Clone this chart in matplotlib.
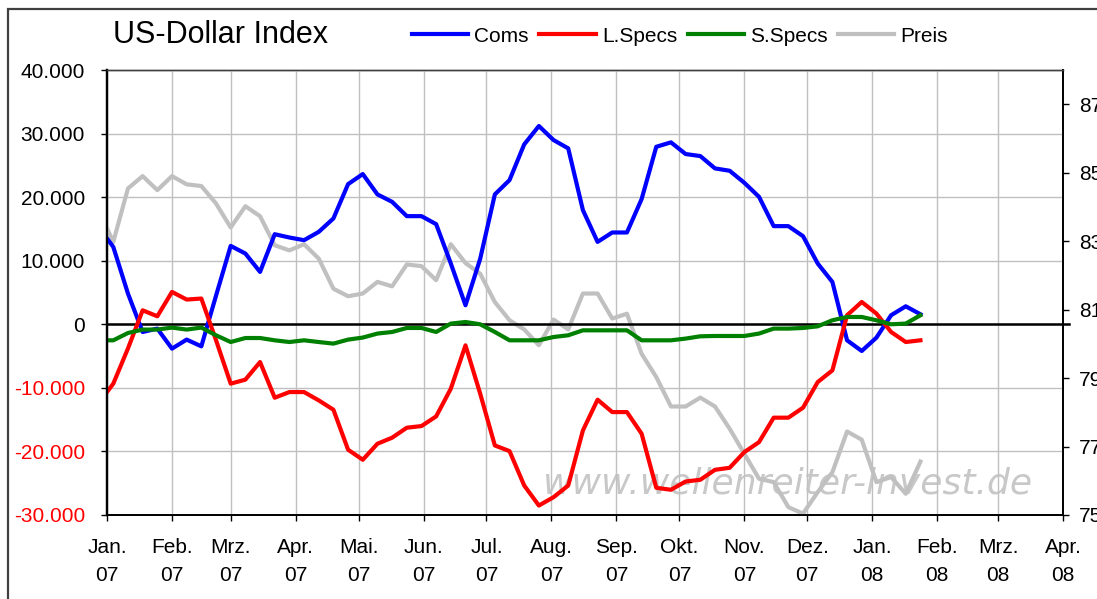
import numpy as np
import pandas as pd
import matplotlib
matplotlib.use("Agg")
import matplotlib.pyplot as plt
import matplotlib.patches as patches
from matplotlib.ticker import FuncFormatter

plt.rcParams['font.family'] = ['Liberation Sans', 'DejaVu Sans']

# ---------------------------data---------------------
# first value sits on the axis start, the rest are weekly reports
dates = pd.DatetimeIndex(['2007-01-01']).append(
    pd.date_range('2007-01-04', periods=56, freq='7D'))

coms = [13500, 12170, 4830, -1210, -680, -3830, -2410, -3470, 4500, 12330,
        11130, 8240, 14170, 13650, 13230, 14540, 16650, 22050, 23630, 20430,
        19260, 17010, 17010, 15750, 9560, 2990, 10300, 20430, 22680, 28300,
        31190, 28980, 27670, 17960, 12960, 14440, 14440, 19690, 27920, 28620,
        26780, 26460, 24520, 24150, 22260, 20050, 15440, 15440, 13860, 9560,
        6660, -2520, -4200, -2100, 1420, 2830, 1575]

l_specs = [-10660, -9340, -3800, 2200, 1260, 5090, 3890, 4050, -2500, -9340,
           -8710, -5940, -11550, -10660, -10660, -11970, -13440, -19730, -21310, -18790,
           -17840, -16270, -16010, -14490, -10130, -3310, -10910, -19060, -19950, -25360,
           -28510, -27200, -25360, -16700, -11860, -13810, -13810, -17210, -25720, -26030,
           -24730, -24460, -22890, -22570, -20110, -18540, -14690, -14690, -13120, -9090,
           -7250, 1420, 3510, 1690, -1210, -2790, -2520]

s_specs = [-2520, -2520, -1370, -830, -830, -520, -830, -520, -1730, -2790,
           -2160, -2160, -2520, -2790, -2520, -2790, -3040, -2410, -2090, -1460,
           -1210, -580, -580, -1210, 110, 360, 0, -1210, -2520, -2520,
           -2520, -2000, -1730, -950, -950, -950, -950, -2520, -2520, -2520,
           -2250, -1890, -1840, -1840, -1840, -1460, -680, -680, -580, -320,
           630, 1150, 1150, 630, 0, 110, 1420]

preis = [83.37, 82.98, 84.54, 84.90, 84.49, 84.90, 84.66, 84.61, 84.10, 83.40,
         84.02, 83.73, 82.88, 82.73, 82.91, 82.49, 81.61, 81.39, 81.47, 81.81,
         81.68, 82.32, 82.27, 81.86, 82.91, 82.36, 82.05, 81.22, 80.69, 80.42,
         79.96, 80.71, 80.42, 81.47, 81.47, 80.74, 80.88, 79.71, 79.03, 78.17,
         78.17, 78.43, 78.17, 77.52, 76.79, 76.06, 75.96, 75.23, 75.04, 75.67,
         76.25, 77.44, 77.20, 75.96, 76.11, 75.62, 76.56]

month_names = ["Jan.", "Feb.", "Mrz.", "Apr.", "Mai.", "Jun.",
               "Jul.", "Aug.", "Sep.", "Okt.", "Nov.", "Dez."]
month_ticks = pd.date_range('2007-01-01', '2008-04-01', freq='MS')
left_ticks = np.arange(-30000, 40001, 10000)
right_ticks = np.arange(75, 88, 2)

# ---------------------------figure---------------------
W, H = 1097, 599
fig = plt.figure(figsize=(W / 100, H / 100), dpi=100)
fig.patch.set_facecolor('white')

# outer chart border (cropped at right/bottom)
fig.patches.append(patches.Rectangle((8 / W, -0.2), 1.2, (1 - 9 / H) + 0.2,
                                     transform=fig.transFigure, fill=False,
                                     edgecolor='#404040', lw=1.6))

ax = fig.add_axes([107 / W, 1 - 515 / H, (1063 - 107) / W, (515 - 70) / H])
ax2 = ax.twinx()
ax.set_zorder(ax2.get_zorder() + 1)
ax.patch.set_visible(False)

lw = 3.0
h_coms, = ax.plot(dates, coms, color='#0000FF', lw=lw, label='Coms')
h_l, = ax.plot(dates, l_specs, color='#FF0000', lw=lw, label='L.Specs')
h_s, = ax.plot(dates, s_specs, color='#008000', lw=lw, label='S.Specs')
h_p, = ax2.plot(dates, preis, color='#C0C0C0', lw=lw, label='Preis', zorder=3)

ax.axhline(0, xmin=0, xmax=1.006, color='black', lw=1.8, clip_on=False, zorder=1.5)

ax.set_xlim(pd.Timestamp('2007-01-01'), pd.Timestamp('2008-04-01'))
ax.set_ylim(-30000, 40000)
ax2.set_ylim(75, 88)

ax.set_xticks(month_ticks)
ax.set_xticklabels([month_names[d.month - 1] + "\n" + d.strftime('%y') for d in month_ticks],
                   fontsize=15, linespacing=1.65)
ax.set_yticks(left_ticks)
ax.yaxis.set_major_formatter(FuncFormatter(lambda v, p: f"{int(v):,}".replace(",", ".")))
ax2.set_yticks(right_ticks)
ax2.set_yticklabels([str(t) for t in right_ticks])

ax.grid(True, color='#C0C0C0', lw=1)
ax.set_axisbelow(True)

ax.tick_params(axis='y', labelsize=15, length=4.3, width=1, pad=11.5, direction='out')
ax.tick_params(axis='x', labelsize=15, length=4.3, width=1, pad=12, direction='out')
ax2.tick_params(axis='y', labelsize=15, length=4.3, width=1, pad=7.2, direction='out')

for lab, v in zip(ax.get_yticklabels(), left_ticks):
    lab.set_color('red' if v < 0 else 'black')

for a in (ax, ax2):
    a.spines['top'].set_color('#404040')
    a.spines['top'].set_linewidth(1.0)
    a.spines['left'].set_linewidth(1.6)
    a.spines['bottom'].set_linewidth(1.3)
    a.spines['right'].set_linewidth(1.3)

# watermark
ax2.text(543 / W, 1 - 493 / H, "www.wellenreiter-invest.de", transform=fig.transFigure,
         fontsize=26, color='#C8C8C8', style='italic', family='DejaVu Sans',
         ha='left', va='baseline', zorder=1)

fig.text(113 / W, 1 - 35 / H, "US-Dollar Index", fontsize=22, va='center', ha='left')

fig.legend(handles=[h_coms, h_l, h_s, h_p], loc='center', ncol=4,
           bbox_to_anchor=(680 / W, 1 - 36 / H), frameon=False, fontsize=15,
           handlelength=2.7, handletextpad=0.3, columnspacing=0.5, borderpad=0)

fig.savefig("out.png", dpi=100)
